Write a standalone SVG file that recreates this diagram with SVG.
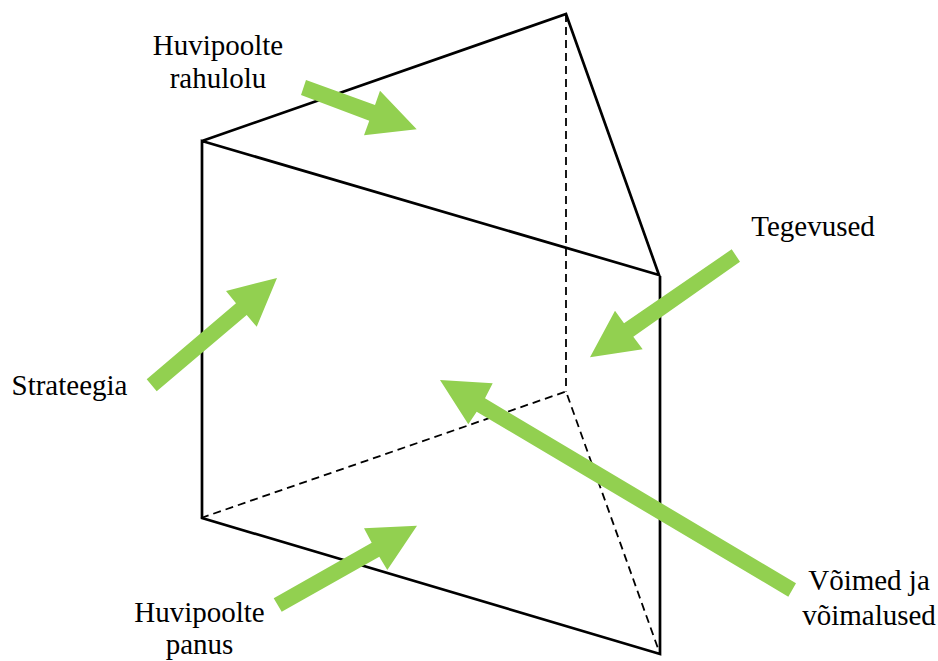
<svg xmlns="http://www.w3.org/2000/svg" width="938" height="661" viewBox="0 0 938 661">
<style>
.e{fill:none;stroke:#000;stroke-width:2.7;stroke-linejoin:miter}
.d{fill:none;stroke:#000;stroke-width:1.8;stroke-dasharray:8 5}
.a{fill:#92d050}
text{font-family:"Liberation Serif","Times New Roman",serif;font-size:29px;fill:#000;text-anchor:middle}
</style>
<rect width="938" height="661" fill="#fff"/>
<g id="connectors">
<path class="e" d="M202 141L566 14L659 275L202 141V518L660 654V276"/>
<path class="d" d="M566 14V391.500M201 518L566 391.500L660 654"/>
<path class="a" d="M306 80L375 105L380 90.700L416.700 129.300L364 135.300L369.300 120.700L301 95Z"/>
<path class="a" d="M146.700 379.300L236 303.300L226 291L277 278L256.700 326.700L246.700 315L156.700 391.300Z"/>
<path class="a" d="M731.700 249.300L740 261.700L633.300 336.700L642.700 349.300L590 357.300L615 310.700L624 323.300Z"/>
<path class="a" d="M796 583.300L788.300 596.700L476.700 411.700L468.300 424.300L440 380L492.700 383.300L485 398.300Z"/>
<path class="a" d="M273.700 598.300L371.700 542.700L364 528.300L417 525.700L387.300 570L379.300 556.700L281.700 611.700Z"/>
</g>
<g id="n1"><text x="218" y="55">Huvipoolte</text><text x="218" y="88">rahulolu</text></g>
<g id="n2"><text x="813" y="236">Tegevused</text></g>
<g id="n3"><text x="69.500" y="395">Strateegia</text></g>
<g id="n4"><text x="869" y="590">Võimed ja</text><text x="869" y="625">võimalused</text></g>
<g id="n5"><text x="199.500" y="622">Huvipoolte</text><text x="199.500" y="654">panus</text></g>
</svg>
